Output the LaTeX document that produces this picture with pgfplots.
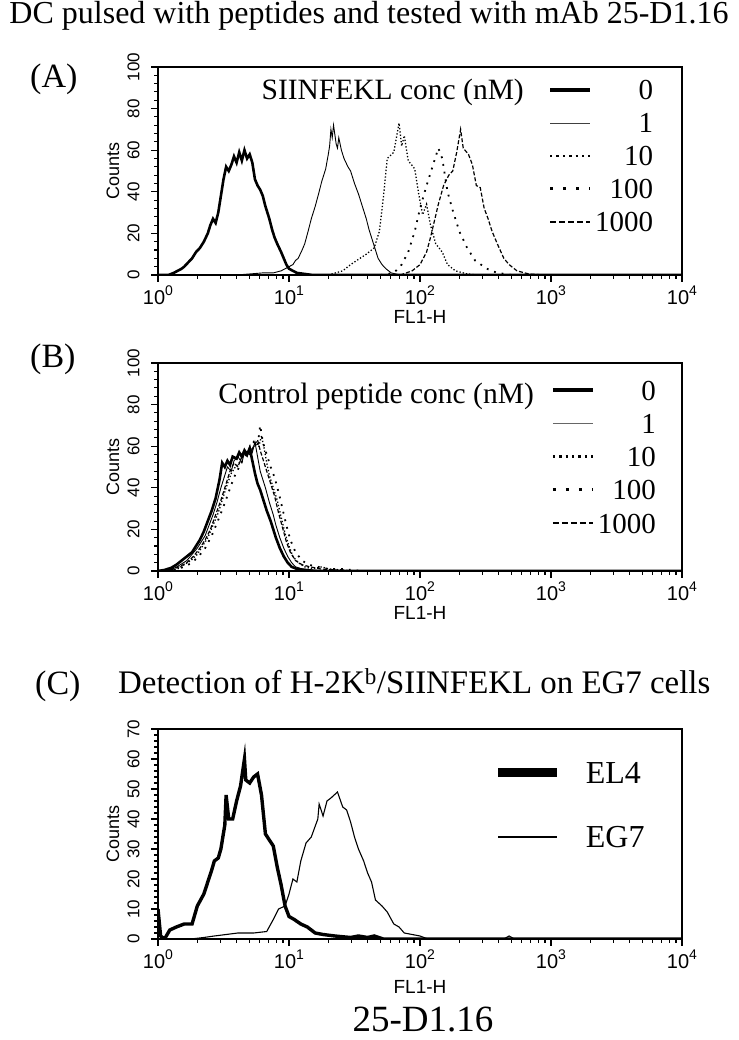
\documentclass[border=0pt]{standalone}
\usepackage{fontspec}
\setmainfont{Liberation Serif}
\newfontfamily\helv{Liberation Sans}
\usepackage{pgfplots}
\pgfplotsset{compat=1.18}
\newcommand{\tl}[1]{10\raisebox{9pt}{\fontsize{14}{14}\selectfont #1}}
\pgfplotsset{
  facs/.style={
    scale only axis, width=524pt,
    xmin=0, xmax=4, ymin=0,
    axis line style={line width=1.6pt},
    tick align=outside, tick pos=left,
    major tick length=7pt, minor tick length=4pt,
    tick style={black, line width=1.1pt},
    xtick={0,1,2,3,4},
    xticklabels={\tl{0},\tl{1},\tl{2},\tl{3},\tl{4}},
    minor xtick={0.301,0.477,0.602,0.699,0.778,0.845,0.903,0.954,1.301,1.477,1.602,1.699,1.778,1.845,1.903,1.954,2.301,2.477,2.602,2.699,2.778,2.845,2.903,2.954,3.301,3.477,3.602,3.699,3.778,3.845,3.903,3.954},
    xticklabel style={font=\helv\fontsize{20}{20}\selectfont},
    yticklabel={\pgfmathprintnumber[assume math mode=true]{\tick}},
    yticklabel style={rotate=90, anchor=south, yshift=8pt, font=\helv\fontsize{17}{17}\selectfont},
    minor y tick num=4,
    xlabel={FL1-H}, ylabel={Counts},
    xlabel style={font=\helv\fontsize{19}{19}\selectfont, at={(axis description cs:0.5,0)}, anchor=center, yshift=-42pt},
    ylabel style={font=\helv\fontsize{18}{18}\selectfont, at={(axis description cs:-0.086,0.5)}, anchor=center},
  },
  concleg/.style={
    legend cell align=right,
    legend image code/.code={\draw[##1] (0pt,0pt) -- (40pt,0pt);},
    legend style={draw=none, fill=none, inner sep=0pt, outer sep=0pt,
      font=\fontsize{29}{29}\selectfont, row sep=13pt, column sep=3pt,
      nodes={inner sep=0pt, outer sep=0pt, text height=20pt, text depth=0pt}},
  },
  c0/.style={black, line width=2.6pt},
  c1/.style={black, line width=0.9pt},
  c10/.style={black, line width=1.3pt, dash pattern=on 1.3pt off 2pt},
  c100/.style={black, line width=1.8pt, dash pattern=on 1.8pt off 6pt},
  c1000/.style={black, line width=1.2pt, dash pattern=on 4pt off 2pt},
}
\begin{document}
\begin{tikzpicture}
\useasboundingbox (0pt,0pt) rectangle (738pt,1040pt);

% ---------------- Panel A
\begin{axis}[facs, concleg, at={(158pt,765pt)}, anchor=south west, height=208pt,
  ymax=100, ytick={0,20,40,60,80,100},
  legend style={at={(0.9447,0.9375)}, anchor=north east},
  legend entries={0,1,10,100,1000}]
\addlegendimage{black, line width=4pt}
\addlegendimage{black!75, line width=0.9pt}
\addlegendimage{black, line width=2.4pt, dash pattern=on 2.4pt off 4pt}
\addlegendimage{black, line width=3pt, dash pattern=on 3pt off 10pt}
\addlegendimage{black, line width=1.6pt, dash pattern=on 6pt off 3pt}
\addplot[c0, forget plot] coordinates {(0,0)(0.08,0)(0.12,1)(0.15,2)(0.18,3)(0.2,4)(0.23,6)(0.26,8)(0.29,11)(0.32,13)(0.35,16)(0.38,20)(0.4,24)(0.42,27)(0.44,25)(0.46,30)(0.48,38)(0.5,46)(0.52,52)(0.54,50)(0.56,53)(0.58,57)(0.6,54)(0.62,59)(0.64,55)(0.66,60)(0.68,56)(0.7,58)(0.72,54)(0.74,46)(0.76,43)(0.78,41)(0.8,38)(0.82,33)(0.85,27)(0.87,22)(0.89,18)(0.91,15)(0.94,11)(0.96,8)(0.98,5)(1.0,3)(1.03,2)(1.06,1)(1.12,0.5)(1.18,0)(4,0)};
\addplot[c1, forget plot] coordinates {(0,0)(0.6,0)(0.7,0.5)(0.8,1)(0.88,1)(0.94,2)(0.97,3)(1.0,4)(1.03,5)(1.05,7)(1.07,8)(1.1,12)(1.12,15)(1.15,22)(1.17,27)(1.2,33)(1.23,40)(1.25,45)(1.28,51)(1.3,58)(1.31,62)(1.32,70)(1.33,66)(1.34,72)(1.36,63)(1.37,61)(1.38,66)(1.4,60)(1.42,56)(1.45,52)(1.47,50)(1.5,44)(1.53,39)(1.56,33)(1.59,27)(1.61,22)(1.63,18)(1.66,12)(1.68,8)(1.71,5)(1.74,3)(1.78,1)(1.85,0)(4,0)};
\addplot[c10, forget plot] coordinates {(1.3,0)(1.41,2)(1.47,5)(1.53,7.5)(1.59,10)(1.65,13)(1.69,21)(1.72,37)(1.75,56)(1.8,59)(1.84,73)(1.86,62)(1.88,67)(1.91,55)(1.96,51)(1.99,39)(2.02,29)(2.05,34)(2.08,24)(2.12,15)(2.17,11)(2.21,5)(2.27,2)(2.36,0.5)(2.45,0)};
\addplot[c100, forget plot] coordinates {(1.7,0)(1.8,1)(1.86,5)(1.91,11)(1.96,21)(2.0,32)(2.05,43)(2.09,51)(2.14,61)(2.17,56)(2.21,40)(2.25,31)(2.3,21)(2.36,13)(2.42,7)(2.51,3)(2.59,1)(2.7,0)};
\addplot[c1000, forget plot] coordinates {(1.85,0)(1.94,2)(2.0,5)(2.05,11)(2.08,18)(2.11,26)(2.14,34)(2.18,43)(2.22,48)(2.25,50)(2.28,59)(2.31,70)(2.33,61)(2.37,58)(2.4,53)(2.43,43)(2.46,42)(2.49,32)(2.52,27)(2.55,21)(2.59,15)(2.64,8)(2.68,5)(2.74,2)(2.83,0.5)(2.95,0)};
\end{axis}

% ---------------- Panel B
\begin{axis}[facs, concleg, at={(158pt,469pt)}, anchor=south west, height=208pt,
  ymax=100, ytick={0,20,40,60,80,100},
  legend style={at={(0.950,0.918)}, anchor=north east, row sep=13.25pt},
  legend entries={0,1,10,100,1000}]
\addlegendimage{black, line width=4pt}
\addlegendimage{black!60, line width=0.9pt}
\addlegendimage{black, line width=2.4pt, dash pattern=on 2.4pt off 4pt}
\addlegendimage{black, line width=3pt, dash pattern=on 3pt off 10pt}
\addlegendimage{black, line width=1.6pt, dash pattern=on 6pt off 3pt}
\addplot[c0, forget plot] coordinates {(0,0)(0.05,0.5)(0.1,1.5)(0.14,3)(0.18,5)(0.22,7)(0.26,9)(0.29,12)(0.32,15)(0.35,19)(0.38,24)(0.41,29)(0.44,35)(0.47,44)(0.49,52)(0.51,50)(0.53,53)(0.55,51)(0.57,55)(0.6,54)(0.62,57)(0.64,55)(0.66,58)(0.68,56)(0.7,59)(0.72,53)(0.74,47)(0.76,42)(0.78,39)(0.8,35)(0.83,29)(0.86,24)(0.88,20)(0.9,16)(0.93,11)(0.96,7)(0.99,4)(1.02,2)(1.06,1)(1.12,0.5)(1.2,0)(4,0)};
\addplot[c1, forget plot] coordinates {(0,0)(0.08,0.5)(0.13,1.5)(0.17,3)(0.22,5)(0.26,8)(0.3,11)(0.33,14)(0.36,17)(0.39,22)(0.42,27)(0.45,33)(0.48,40)(0.51,46)(0.53,50)(0.56,48)(0.58,53)(0.61,55)(0.64,52)(0.66,57)(0.68,55)(0.7,60)(0.72,57)(0.74,62)(0.76,55)(0.78,48)(0.8,44)(0.82,40)(0.85,33)(0.88,27)(0.9,22)(0.93,16)(0.96,11)(0.99,7)(1.02,4)(1.05,2)(1.1,1)(1.18,0.5)(1.3,0)(4,0)};
\addplot[c10, forget plot] coordinates {(0,0)(0.1,0.5)(0.15,1)(0.2,3)(0.25,5)(0.3,8)(0.34,12)(0.38,16)(0.42,22)(0.46,28)(0.5,36)(0.53,42)(0.56,47)(0.59,50)(0.62,52)(0.65,56)(0.68,58)(0.71,57)(0.74,61)(0.77,60)(0.79,65)(0.81,59)(0.83,52)(0.85,46)(0.88,40)(0.91,34)(0.94,26)(0.97,18)(1.0,12)(1.03,7)(1.07,4)(1.12,2)(1.18,1)(1.25,2)(1.3,1)(1.4,0.5)(1.5,0)};
\addplot[c100, forget plot] coordinates {(0,0)(0.12,0.5)(0.2,2)(0.26,4)(0.31,7)(0.36,11)(0.41,17)(0.45,23)(0.5,31)(0.54,38)(0.58,45)(0.62,50)(0.66,55)(0.7,58)(0.73,62)(0.76,60)(0.78,70)(0.8,62)(0.83,56)(0.86,50)(0.89,45)(0.92,38)(0.95,30)(0.98,22)(1.01,15)(1.05,9)(1.1,5)(1.15,3)(1.22,2)(1.3,1)(1.4,1)(1.48,0.5)(1.55,0)};
\addplot[c1000, forget plot] coordinates {(0,0)(0.1,0.5)(0.16,2)(0.22,4)(0.27,7)(0.32,11)(0.36,15)(0.4,20)(0.44,27)(0.48,34)(0.52,42)(0.55,48)(0.58,52)(0.61,50)(0.64,55)(0.67,57)(0.7,56)(0.73,60)(0.76,63)(0.78,58)(0.8,54)(0.83,48)(0.86,42)(0.89,36)(0.92,28)(0.95,21)(0.98,14)(1.01,9)(1.05,5)(1.1,3)(1.16,2)(1.24,1)(1.35,0.5)(1.45,0)};
\end{axis}

% ---------------- Panel C
\begin{axis}[facs, at={(158pt,101pt)}, anchor=south west, height=210pt,
  ymax=70, ytick={0,10,20,30,40,50,60,70},
  xlabel style={yshift=-6pt},
  legend cell align=left,
  legend image code/.code={\draw[#1] (0pt,0pt) -- (59pt,0pt);},
  legend style={draw=none, fill=none, inner sep=0pt, outer sep=0pt,
    at={(0.641,0.843)}, anchor=north west,
    font=\fontsize{32}{32}\selectfont, row sep=42pt, column sep=24pt,
    nodes={inner sep=0pt, outer sep=0pt, text height=22pt, text depth=0pt}},
  legend entries={EL4,EG7}]
\addlegendimage{black, line width=9pt}
\addlegendimage{black, line width=1.2pt}
\addplot[black, line width=3.4pt, forget plot] coordinates {(0,10)(0.02,1)(0.05,0)(0.09,3)(0.14,4)(0.2,5)(0.26,5)(0.3,11)(0.35,15)(0.38,19)(0.41,23)(0.43,26)(0.46,27)(0.48,30)(0.51,38)(0.52,48)(0.54,40)(0.57,40)(0.6,46)(0.63,51)(0.66,60)(0.67,53)(0.7,52)(0.73,54)(0.76,55)(0.79,48)(0.82,35)(0.85,33)(0.88,31)(0.91,24)(0.94,18)(0.97,11)(1.0,7.5)(1.04,6.5)(1.09,5)(1.14,4)(1.2,2)(1.26,1.5)(1.35,1)(1.47,0.5)(1.53,1)(1.6,0.5)(1.65,1)(1.72,0)(4,0)};
\addplot[black, line width=1.1pt, forget plot] coordinates {(0,0)(0.25,0)(0.35,0.5)(0.43,1)(0.52,1.5)(0.61,2)(0.73,2)(0.83,2.5)(0.88,6.5)(0.92,10)(0.97,11)(1.0,15)(1.03,20)(1.06,19)(1.09,26)(1.13,32)(1.17,34)(1.22,40)(1.23,45)(1.26,41)(1.29,46)(1.32,47)(1.37,49)(1.41,44)(1.44,43)(1.47,39)(1.5,34)(1.53,30)(1.57,26)(1.6,22)(1.63,19)(1.66,13)(1.71,11)(1.75,9)(1.8,5)(1.84,4)(1.88,2)(1.94,1.5)(2.0,1)(2.06,0)(2.64,0)(2.68,1)(2.72,0)(4,0)};
\end{axis}

% ---------------- Texts
\node[anchor=base, inner sep=0pt, font=\fontsize{32}{32}\selectfont] at (369pt,1016pt) {DC pulsed with peptides and tested with mAb 25-D1.16};
\node[anchor=base west, inner sep=0pt, font=\fontsize{34}{34}\selectfont] at (30pt,952pt) {(A)};
\node[anchor=base west, inner sep=0pt, font=\fontsize{34}{34}\selectfont] at (30pt,672pt) {(B)};
\node[anchor=base west, inner sep=0pt, font=\fontsize{34}{34}\selectfont] at (35pt,345pt) {(C)};
\node[anchor=base east, inner sep=0pt, font=\fontsize{29.5}{29.5}\selectfont] at (524pt,940pt) {SIINFEKL conc (nM)};
\node[anchor=base east, inner sep=0pt, font=\fontsize{29.5}{29.5}\selectfont] at (534pt,636pt) {Control peptide conc (nM)};
\node[anchor=base west, inner sep=0pt, font=\fontsize{32.9}{32.9}\selectfont] at (118pt,346pt) {Detection of H-2K\textsuperscript{b}/SIINFEKL on EG7 cells};
\node[anchor=base, inner sep=0pt, font=\fontsize{37}{37}\selectfont] at (423pt,9pt) {25-D1.16};
\end{tikzpicture}
\end{document}
